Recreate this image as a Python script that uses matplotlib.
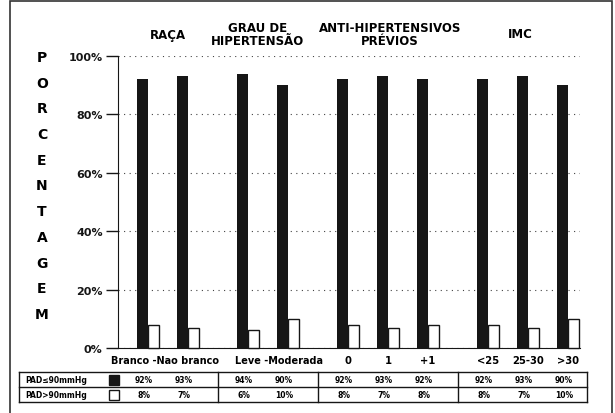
#importing essential libraries
import numpy as np
import matplotlib.pyplot as plt
from matplotlib import transforms
from matplotlib.patches import Rectangle

plt.rcParams['font.family'] = 'DejaVu Sans'
plt.rcParams['font.weight'] = 'bold'

#chart data
groups = ['RAÇA', 'GRAU DE\nHIPERTENSÃO', 'ANTI-HIPERTENSIVOS\nPRÉVIOS', 'IMC']
group_sizes = [2, 2, 3, 3]
categories = ['Branco', 'Nao branco', 'Leve', 'Moderada', '0', '1', '+1', '<25', '25-30', '>30']
pad_le90 = [92, 93, 94, 90, 92, 93, 92, 92, 93, 90]
pad_gt90 = [8, 7, 6, 10, 8, 7, 8, 8, 7, 10]
row_labels = ['PAD≤90mmHg', 'PAD>90mmHg']
y_title = 'PORCENTAGEM'

#bar positions, groups separated by a wider gap
x = []
pos = 0.0
for size in group_sizes:
    for j in range(size):
        x.append(pos)
        pos += 1
    pos += 0.5
x = np.array(x)
starts = np.cumsum([0] + group_sizes[:-1])
centers = [x[s:s + n].mean() for s, n in zip(starts, group_sizes)]

W, H = 615, 414
fig = plt.figure(figsize=(W / 100, H / 100), dpi=100)
ax = fig.add_axes([118 / W, 1 - 349 / H, 462 / W, 292 / H])

w = 0.27
ink = '#161616'
ax.bar(x - w / 2, pad_le90, w, color=ink, zorder=3, clip_on=False)
ax.bar(x + w / 2, pad_gt90, w, color='white', edgecolor=ink, linewidth=1, zorder=3, clip_on=False)

ax.set_xlim(-0.75, 10.8)
ax.set_ylim(0, 100)
ax.set_yticks(range(0, 101, 20))
ax.set_yticklabels([f'{v}%' for v in range(0, 101, 20)], fontsize=8)
ax.tick_params(axis='y', length=9, width=1, pad=2, colors=ink)
ax.tick_params(axis='x', length=0, labelbottom=False)
ax.spines['top'].set_visible(False)
ax.spines['right'].set_visible(False)
ax.spines['left'].set_color(ink)
ax.spines['bottom'].set_color(ink)
ax.grid(axis='y', linestyle=(0, (1, 4)), color='#444444', linewidth=0.8)
ax.set_axisbelow(True)

trans = transforms.blended_transform_factory(ax.transData, fig.transFigure)

#category labels under the bars
label_shift = [-0.08, 0.27]
for gi, (s, n) in enumerate(zip(starts, group_sizes)):
    if gi < 2:
        ax.text(centers[gi] + label_shift[gi], 1 - 361 / H, ' -'.join(categories[s:s + n]),
                transform=trans, ha='center', va='center', fontsize=7)
    else:
        for k in range(s, s + n):
            ax.text(x[k], 1 - 361 / H, categories[k], transform=trans,
                    ha='center', va='center', fontsize=7.2)

#group titles
title_shift = [0, -0.25, 0.05, -0.2]
for gi, g in enumerate(groups):
    ax.text(centers[gi] + title_shift[gi], 1 - 35 / H, g, transform=trans, ha='center',
            va='center', fontsize=8.5, linespacing=1.05)

#vertical stacked axis title
for i, ch in enumerate(y_title):
    fig.text(42 / W, 1 - (58 + i * 25.7) / H, ch, ha='center', va='center', fontsize=10)

#table under the chart
ax_t = fig.add_axes([118 / W, 1 - 403 / H, 462 / W, 30 / H])
ax_t.set_xlim(ax.get_xlim())
ax_t.set_ylim(0, 2)
ax_t.axis('off')
L, R = (19 - 148) / 40, (587 - 148) / 40
for yy in [0, 1, 2]:
    ax_t.plot([L, R], [yy, yy], color=ink, lw=1, clip_on=False)
dividers = [(x[s - 1] + x[s]) / 2 for s in starts[1:]]
for xx in [L, R] + dividers:
    ax_t.plot([xx, xx], [0, 2], color=ink, lw=1, clip_on=False)
for r, (lab, vals, face) in enumerate(zip(row_labels, [pad_le90, pad_gt90], [ink, 'white'])):
    yy = 1.5 - r
    ax_t.text(L + 0.15, yy, lab, ha='left', va='center', fontsize=5.5, clip_on=False)
    ax_t.plot(-0.86, yy, marker='s', ms=6.5, mfc=face, mec=ink, mew=1, clip_on=False)
    for xi, v in zip(x, vals):
        ax_t.text(xi - 0.1, yy, f'{v}%', ha='center', va='center', fontsize=5.5)

#outer frame (open at the bottom)
fig.add_artist(Rectangle((10 / W, -0.05), 602 / W, 1.05 - 2 / H, transform=fig.transFigure,
                         fill=False, lw=1.2, ec='#333333'))

fig.savefig('out.png', dpi=100)
